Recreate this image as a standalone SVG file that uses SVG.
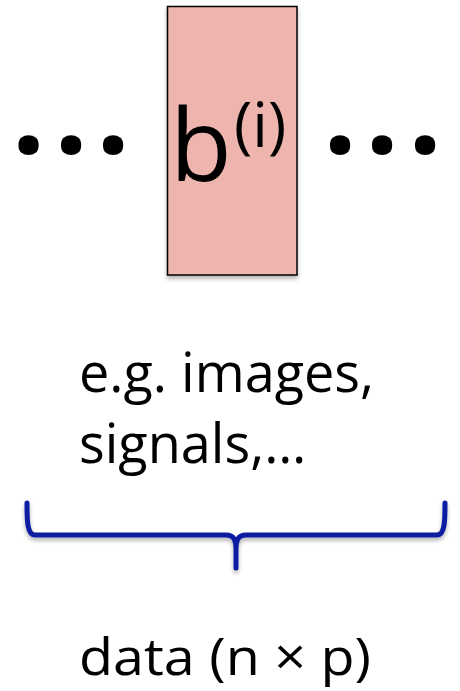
<svg xmlns="http://www.w3.org/2000/svg" width="460" height="691" viewBox="0 0 460 691">
<style>
.t{font-family:"Open Sans","Liberation Sans",sans-serif;fill:#000}
.dots{font-family:"Open Sans","Liberation Sans",sans-serif;font-weight:bold;font-size:118px;text-anchor:middle;fill:#000}
</style>
<defs>
<filter id="sh" x="-20%" y="-20%" width="140%" height="140%">
<feGaussianBlur in="SourceAlpha" stdDeviation="2"/>
<feOffset dx="0" dy="3" result="b"/>
<feComponentTransfer><feFuncA type="linear" slope="0.3"/></feComponentTransfer>
<feMerge><feMergeNode/><feMergeNode in="SourceGraphic"/></feMerge>
</filter>
</defs>
<rect width="460" height="691" fill="#fff"/>
<g id="dots-left"><text class="dots" x="28.5 71 113" y="153">...</text></g>
<g id="block">
<rect x="167.5" y="6.5" width="129.5" height="268.5" fill="#EDB5AE" stroke="#000" stroke-width="1.5" filter="url(#sh)"/>
<text class="t" x="170" y="181" font-size="101">b</text>
<text class="t" x="234" y="147" font-size="62">(i)</text>
</g>
<g id="dots-right"><text class="dots" x="340 382 425" y="153">...</text></g>
<g id="label"><text class="t" font-size="54"><tspan x="79" y="392">e.g. images,</tspan><tspan x="79" y="463">signals,…</tspan></text></g>
<g id="connectors">
<path d="M27 503 C27 520 27 535 35 535 L226 535 C234 535 236 540 236 550 L236 568 M236 550 C236 540 238 535 246 535 L437 535 C445 535 445 520 445 503" fill="none" stroke="#0B1FA0" stroke-width="5" stroke-linecap="round" stroke-linejoin="round" filter="url(#sh)"/>
</g>
<g id="data"><text class="t" x="79" y="675" font-size="52" textLength="292" lengthAdjust="spacingAndGlyphs">data (n × p)</text></g>
</svg>
